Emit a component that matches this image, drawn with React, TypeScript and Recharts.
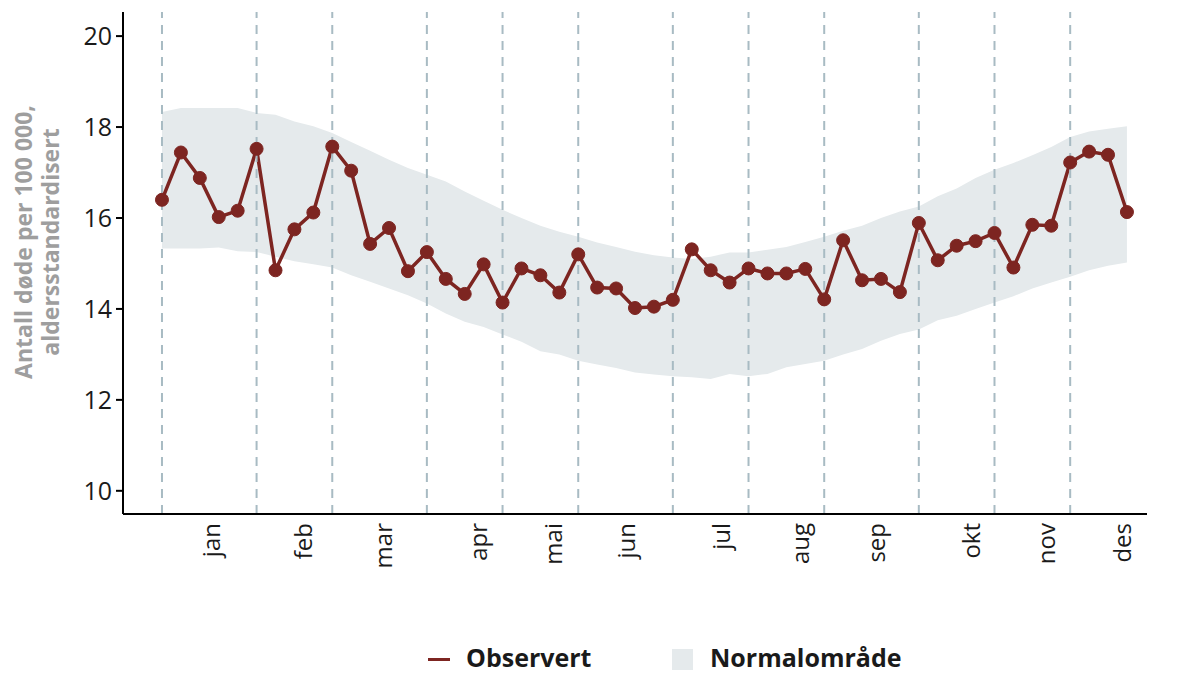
import { ComposedChart, Line, Area, XAxis, YAxis, ReferenceLine } from 'recharts';

const observed = [
  16.40, 17.44, 16.88, 16.02, 16.16, 17.52, 14.85, 15.75, 16.12, 17.57,
  17.04, 15.43, 15.78, 14.83, 15.25, 14.66, 14.33, 14.98, 14.14, 14.89,
  14.74, 14.36, 15.20, 14.47, 14.45, 14.02, 14.05, 14.20, 15.31, 14.85,
  14.58, 14.89, 14.78, 14.78, 14.88, 14.21, 15.51, 14.63, 14.66, 14.37,
  15.89, 15.07, 15.39, 15.49, 15.67, 14.91, 15.85, 15.83, 17.22, 17.46,
  17.39, 16.13,
];

const normalUpper = [
  18.33, 18.42, 18.42, 18.42, 18.42, 18.31, 18.27, 18.12, 18.02, 17.87,
  17.67, 17.48, 17.28, 17.10, 16.95, 16.80, 16.58, 16.38, 16.18, 16.00,
  15.83, 15.70, 15.59, 15.46, 15.36, 15.26, 15.18, 15.13, 15.10, 15.15,
  15.24, 15.24, 15.30, 15.36, 15.47, 15.59, 15.72, 15.83, 16.00, 16.14,
  16.25, 16.48, 16.65, 16.88, 17.06, 17.21, 17.38, 17.56, 17.78, 17.90,
  17.96, 18.02,
];

const normalLower = [
  15.33, 15.33, 15.33, 15.35, 15.27, 15.25, 15.15, 15.05, 14.98, 14.91,
  14.74, 14.60, 14.45, 14.30, 14.12, 13.90, 13.72, 13.60, 13.44, 13.28,
  13.07, 13.00, 12.86, 12.78, 12.70, 12.60, 12.56, 12.52, 12.50, 12.46,
  12.57, 12.52, 12.57, 12.72, 12.79, 12.86, 13.00, 13.12, 13.30, 13.45,
  13.55, 13.75, 13.85, 14.00, 14.14, 14.28, 14.45, 14.58, 14.71, 14.85,
  14.95, 15.02,
];

// week index where each month starts (dashed lines)
const monthStarts = [0, 5, 9, 14, 18, 22, 27, 31, 35, 40, 44, 48];
// where the month names sit on the week axis
const monthLabelPos = [2.55, 7.45, 11.65, 16.7, 20.65, 24.5, 29.5, 33.7, 37.7, 42.75, 46.7, 50.7];
const monthNames = ['jan', 'feb', 'mar', 'apr', 'mai', 'jun', 'jul', 'aug', 'sep', 'okt', 'nov', 'des'];

const yTicks = [10, 12, 14, 16, 18, 20];

const LINE = '#7d2521';
const BAND = '#e5eaec';
const DASH = '#a8bbc3';
const FONT = '"Open Sans", sans-serif';

const data = observed.map((v, i) => ({
  week: i,
  obs: v,
  range: [normalLower[i], normalUpper[i]],
}));

function MonthTick(props: any) {
  const { x, y, payload } = props;
  const idx = monthLabelPos.indexOf(payload.value);
  return (
    <text
      x={x}
      y={y}
      transform={`rotate(-90, ${x}, ${y})`}
      textAnchor="end"
      dominantBaseline="central"
      fontSize={24}
      fontFamily={FONT}
      fill="#1a1a1a"
    >
      {monthNames[idx]}
    </text>
  );
}

function YLabel() {
  return (
    <text
      transform="rotate(-90, 38, 242)"
      x={38}
      y={242}
      textAnchor="middle"
      fontSize={23}
      fontWeight="bold"
      fontFamily={FONT}
      fill="#9e9e9e"
    >
      <tspan x={38} dy={-6}>Antall døde per 100 000,</tspan>
      <tspan x={38} dy={27}>aldersstandardisert</tspan>
    </text>
  );
}

function ChartLegend() {
  return (
    <svg
      width={1179}
      height={40}
      style={{ position: 'absolute', left: 0, top: 635 }}
      fontFamily={FONT}
      fontWeight="bold"
      fontSize={25}
      fill="#1a1a1a"
    >
      <rect x={428} y={23} width={22} height={3} fill={LINE} />
      <text x={466} y={32}>Observert</text>
      <rect x={672} y={14} width={21} height={21} fill={BAND} />
      <text x={710} y={32}>Normalområde</text>
    </svg>
  );
}

export default function App() {
  return (
    <div style={{ position: 'absolute', left: 0, top: 0, width: 1179, height: 675, background: '#fff' }}>
      <ComposedChart
        width={1179}
        height={675}
        data={data}
        margin={{ top: 12, right: 32, bottom: 81, left: 0 }}
      >
        <XAxis
          dataKey="week"
          type="number"
          domain={[-2.06, 52.06]}
          ticks={monthLabelPos}
          interval={0}
          tickLine={false}
          tickSize={0}
          tickMargin={9}
          height={80}
          axisLine={{ stroke: '#000', strokeWidth: 2 }}
          tick={<MonthTick />}
          allowDataOverflow
        />
        <YAxis
          type="number"
          domain={[9.49, 20.53]}
          ticks={yTicks}
          width={123}
          interval={0}
          tickSize={7}
          tickMargin={4}
          tickLine={{ stroke: '#000', strokeWidth: 2 }}
          axisLine={{ stroke: '#000', strokeWidth: 2 }}
          tick={{ fontSize: 25, fontFamily: FONT, fill: '#1a1a1a' }}
          label={<YLabel />}
          allowDataOverflow
        />
        <Area
          dataKey="range"
          type="linear"
          fill={BAND}
          fillOpacity={1}
          stroke="none"
          isAnimationActive={false}
        />
        <Line
          dataKey="obs"
          type="linear"
          stroke={LINE}
          strokeWidth={3.5}
          dot={{ r: 6.5, fill: LINE, stroke: LINE, strokeWidth: 1 }}
          activeDot={false}
          isAnimationActive={false}
        />
        {monthStarts.map((m) => (
          <ReferenceLine key={m} x={m} stroke={DASH} strokeWidth={2} strokeDasharray="9 7" />
        ))}
      </ComposedChart>
      <ChartLegend />
    </div>
  );
}
